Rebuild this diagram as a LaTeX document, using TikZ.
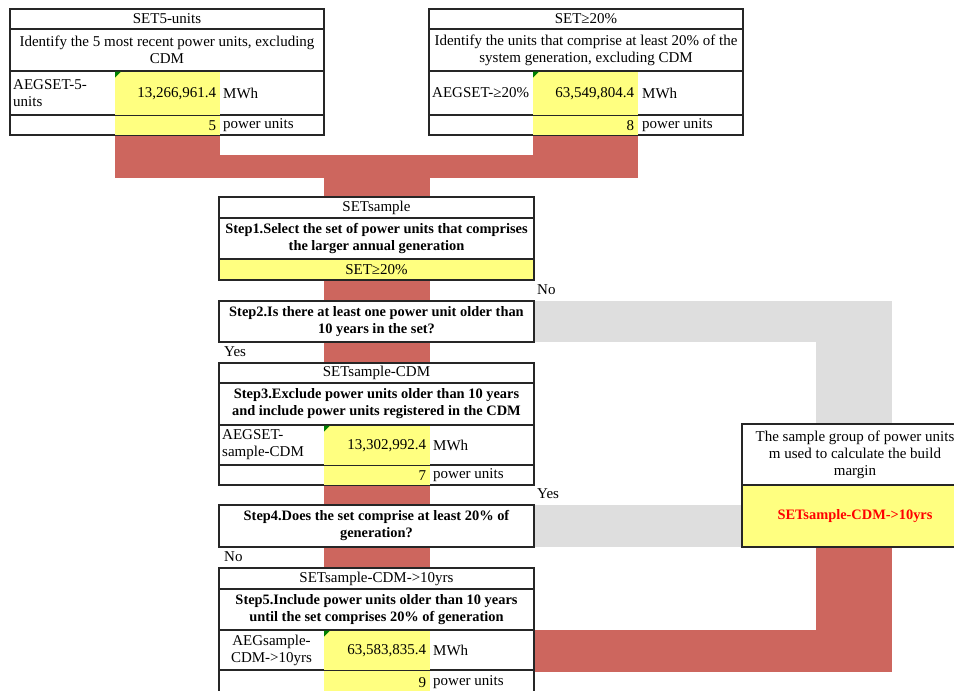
\documentclass[tikz,border=0pt]{standalone}
\usepackage{fontspec}
\setmainfont{Liberation Serif}
\usetikzlibrary{backgrounds}
\definecolor{hilite}{RGB}{255,255,128}
\definecolor{flowred}{RGB}{205,102,94}
\definecolor{skipgray}{RGB}{222,222,222}
\definecolor{flaggreen}{RGB}{0,128,0}
\definecolor{resultred}{RGB}{255,0,0}

\begin{document}
\begin{tikzpicture}[
  x=1pt, y=-1pt,
  every node/.style={font=\fontsize{15}{17}\selectfont},
  row/.style={draw=black!85, line width=1.2pt, fill=white, inner sep=0pt,
    outer sep=0pt, anchor=north west, align=center},
  bold/.style={font=\bfseries\fontsize{14.4}{17}\selectfont},
  numcell/.style={fill=hilite, inner xsep=4pt, inner ysep=0pt, text width=97pt,
    align=right, anchor=north west},
  lbl/.style={anchor=west, inner sep=0pt, align=left},
  flow/.style={fill=flowred},
  skip/.style={fill=skipgray},
  flag/.style={fill=flaggreen}
]
\useasboundingbox (0,0) rectangle (954,691);

% Candidate set: five most recent units.
\node[row, minimum width=314, minimum height=20] (t5head) at (10,9) {SET5-units};
\node[row, minimum width=314, minimum height=42] (t5desc) at (t5head.south west)
  {Identify the 5 most recent power units, excluding\\CDM};
\node[row, minimum width=314, minimum height=44] (t5val) at (t5desc.south west) {};
\node[row, minimum width=314, minimum height=20] (t5cnt) at (t5val.south west) {};
\node[numcell, minimum height=42.8] (t5mwh) at (115,71.6) {13,266,961.4};
\node[numcell, minimum height=18.8] (t5num) at (115,115.6) {5};
\fill[flag] (t5mwh.north west) -- ++(6,0) -- ++(-6,6) -- cycle;
\node[lbl] (t5name) at (13,93) {AEGSET-5-\\units};
\node[lbl] (t5mwhu) at (223,93) {MWh};
\node[lbl] (t5numu) at (223,125) {power units};

% Candidate set: units making up 20% of generation.
\node[row, minimum width=314, minimum height=20] (t20head) at (429,9) {SET≥20\%};
\node[row, minimum width=314, minimum height=42] (t20desc) at (t20head.south west)
  {Identify the units that comprise at least 20\% of the\\system generation, excluding CDM};
\node[row, minimum width=314, minimum height=44] (t20val) at (t20desc.south west) {};
\node[row, minimum width=314, minimum height=20] (t20cnt) at (t20val.south west) {};
\node[numcell, minimum height=42.8] (t20mwh) at (533,71.6) {63,549,804.4};
\node[numcell, minimum height=18.8] (t20num) at (533,115.6) {8};
\fill[flag] (t20mwh.north west) -- ++(6,0) -- ++(-6,6) -- cycle;
\node[lbl] (t20name) at (432,93) {AEGSET-≥20\%};
\node[lbl] (t20mwhu) at (642,93) {MWh};
\node[lbl] (t20numu) at (642,125) {power units};

% Step 1.
\node[row, minimum width=315, minimum height=21] (smphead) at (219,197) {SETsample};
\node[row, bold, minimum width=315, minimum height=41] (smpstep) at (smphead.south west)
  {Step1.Select the set of power units that comprises\\the larger annual generation};
\node[row, fill=hilite, minimum width=315, minimum height=21] (smppick) at (smpstep.south west)
  {SET≥20\%};

% Step 2.
\node[row, bold, minimum width=315, minimum height=41] (q2) at (219,301)
  {Step2.Is there at least one power unit older than\\10 years in the set?};
\node[lbl] (no1) at (537,290) {No};
\node[lbl] (yes1) at (224,352) {Yes};

% Step 3.
\node[row, minimum width=315, minimum height=20] (cdmhead) at (219,363) {SETsample-CDM};
\node[row, bold, minimum width=315, minimum height=42] (cdmstep) at (cdmhead.south west)
  {Step3.Exclude power units older than 10 years\\and include power units registered in the CDM};
\node[row, minimum width=315, minimum height=40] (cdmval) at (cdmstep.south west) {};
\node[row, minimum width=315, minimum height=20] (cdmcnt) at (cdmval.south west) {};
\node[numcell, text width=98pt, minimum height=38.8] (cdmmwh) at (324,425.6) {13,302,992.4};
\node[numcell, text width=98pt, minimum height=18.8] (cdmnum) at (324,465.6) {7};
\fill[flag] (cdmmwh.north west) -- ++(6,0) -- ++(-6,6) -- cycle;
\node[lbl] (cdmname) at (222,445) {AEGSET-\\sample-CDM};
\node[lbl] (cdmmwhu) at (433,445) {MWh};
\node[lbl] (cdmnumu) at (433,475) {power units};

% Step 4.
\node[row, bold, minimum width=315, minimum height=42] (q4) at (219,505)
  {Step4.Does the set comprise at least 20\% of\\generation?};
\node[lbl] (yes2) at (537,494) {Yes};
\node[lbl] (no2) at (224,557) {No};

% Step 5.
\node[row, minimum width=315, minimum height=21] (oldhead) at (219,568) {SETsample-CDM->10yrs};
\node[row, bold, minimum width=315, minimum height=41] (oldstep) at (oldhead.south west)
  {Step5.Include power units older than 10 years\\until the set comprises 20\% of generation};
\node[row, minimum width=315, minimum height=40] (oldval) at (oldstep.south west) {};
\node[row, minimum width=315, minimum height=24] (oldcnt) at (oldval.south west) {};
\node[numcell, text width=98pt, minimum height=38.8] (oldmwh) at (324,630.6) {63,583,835.4};
\node[numcell, text width=98pt, minimum height=22.8] (oldnum) at (324,670.6) {9};
\fill[flag] (oldmwh.north west) -- ++(6,0) -- ++(-6,6) -- cycle;
\node[align=center, inner sep=0pt] (oldname) at (271.5,650) {AEGsample-\\CDM->10yrs};
\node[lbl] (oldmwhu) at (433,650) {MWh};
\node[lbl] (oldnumu) at (433,682) {power units};

% Resulting sample group.
\node[row, minimum width=226, minimum height=61] (outhead) at (742,424)
  {The sample group of power units\\m used to calculate the build\\margin};
\node[row, fill=hilite, text=resultred, bold, minimum width=226, minimum height=62]
  (outset) at (outhead.south west) {SETsample-CDM->10yrs};

% Flow bands behind the tables.
\begin{scope}[on background layer]
  \fill[flow] (t5num.south west) rectangle (t5num.south east |- 0,178);
  \fill[flow] (t20num.south west) rectangle (t20num.south east |- 0,178);
  \fill[flow] (t5num.south west |- 0,155) rectangle (t20num.south east |- 0,178);
  \fill[flow] (cdmmwh.west |- 0,178) rectangle (cdmmwh.east |- oldcnt.south);
  \fill[skip] (q2.north east) rectangle (q2.south east -| 892,0);
  \fill[skip] (816,0 |- q2.south) rectangle (outhead.north east -| 892,0);
  \fill[skip] (q4.north east) rectangle (outset.south west);
  \fill[flow] (816,0 |- outset.south) rectangle (892,672);
  \fill[flow] (oldval.north east) rectangle (892,672);
\end{scope}
\end{tikzpicture}
\end{document}
